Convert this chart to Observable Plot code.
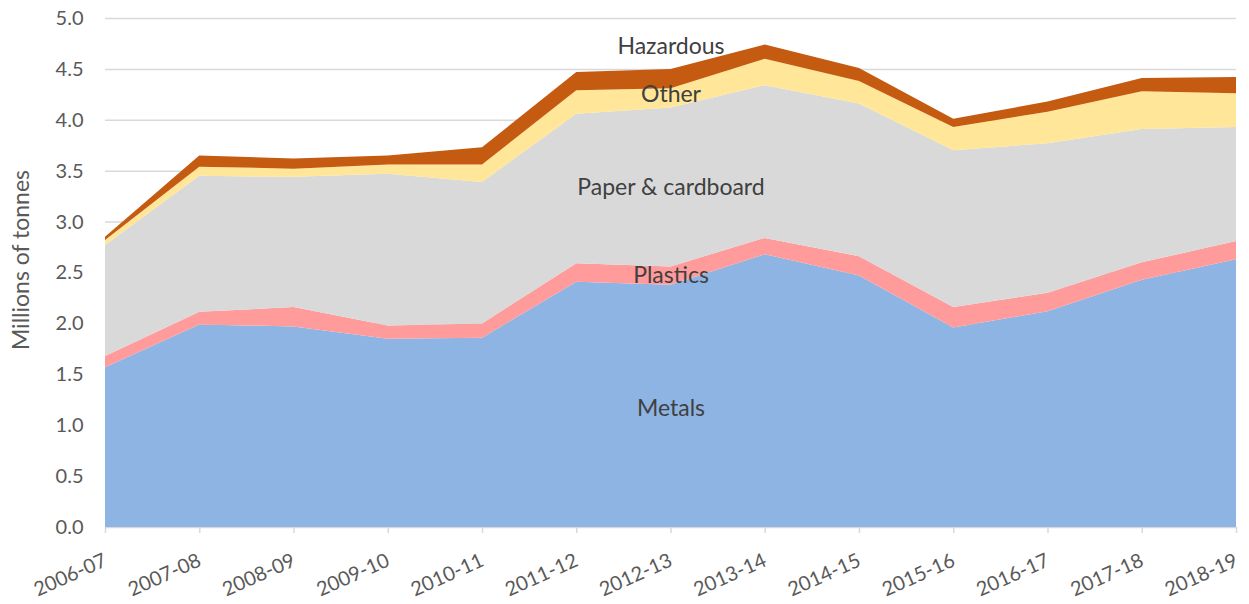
<!DOCTYPE html>
<html>
<head>
<meta charset="utf-8">
<script src="https://cdn.jsdelivr.net/npm/d3@7"></script>
<script src="https://cdn.jsdelivr.net/npm/@observablehq/plot@0.6"></script>
<style>
  html, body { margin: 0; padding: 0; background: #fff; }
  #chart { width: 1249px; height: 604px; }
</style>
</head>
<body>
<div id="chart"></div>
<script>
const years = ["2006-07","2007-08","2008-09","2009-10","2010-11","2011-12","2012-13","2013-14","2014-15","2015-16","2016-17","2017-18","2018-19"];
const categories = ["Metals","Plastics","Paper & cardboard","Other","Hazardous"];
const colors = ["#8EB4E3","#FF9B9B","#D9D9D9","#FFE699","#C55A11"];
const metals    = [1.57, 1.99, 1.97, 1.85, 1.86, 2.41, 2.38, 2.68, 2.47, 1.96, 2.12, 2.43, 2.63];
const plastics  = [0.11, 0.125, 0.19, 0.13, 0.14, 0.18, 0.18, 0.16, 0.19, 0.20, 0.18, 0.17, 0.18];
const paper     = [1.09, 1.335, 1.28, 1.49, 1.39, 1.47, 1.56, 1.50, 1.50, 1.54, 1.47, 1.31, 1.12];
const other     = [0.05, 0.09, 0.08, 0.09, 0.17, 0.23, 0.19, 0.26, 0.22, 0.23, 0.31, 0.37, 0.33];
const hazardous = [0.03, 0.11, 0.10, 0.09, 0.17, 0.18, 0.19, 0.14, 0.13, 0.08, 0.10, 0.13, 0.16];
const yTicks = [0, 0.5, 1, 1.5, 2, 2.5, 3, 3.5, 4, 4.5, 5];
// label anchors (year index, value in millions of tonnes)
const labelX = [6, 6, 6, 6, 6];
const labelY = [1.17, 2.47, 3.34, 4.25, 4.72];

const series = [metals, plastics, paper, other, hazardous];
const data = [];
years.forEach((y, i) => {
  categories.forEach((c, k) => data.push({i, year: y, category: c, value: series[k][i]}));
});
const labels = categories.map((c, k) => ({text: c, x: labelX[k], y: labelY[k]}));

const font = "Lato, 'Open Sans', sans-serif";
const chart = Plot.plot({
  width: 1249,
  height: 604,
  marginLeft: 105,
  marginRight: 13,
  marginTop: 18,
  marginBottom: 77,
  style: {fontFamily: font, fontSize: "20px", color: "#595959", background: "#fff"},
  x: {domain: [0, years.length - 1]},
  y: {domain: [0, 5]},
  color: {domain: categories, range: colors},
  marks: [
    Plot.gridY(yTicks, {stroke: "#d9d9d9", strokeOpacity: 1, strokeWidth: 1.5}),
    Plot.areaY(data, {x: "i", y: "value", z: "category", fill: "category", order: categories, curve: "linear"}),
    Plot.axisY(yTicks, {tickSize: 0, tickPadding: 22, tickFormat: d => d.toFixed(1), fill: "#595959", fontSize: 20, label: null}),
    Plot.axisX(d3.range(years.length), {tickSize: 6, stroke: "#d9d9d9", strokeWidth: 1.5, tickPadding: 26, tickRotate: -24, tickFormat: i => years[i], fill: "#595959", fontSize: 20, label: null}),
    Plot.text(labels, {x: "x", y: "y", text: "text", fill: "#404040", fontSize: 23, fontFamily: font})
  ]
});
const svg = chart;
// y-axis title
const ns = "http://www.w3.org/2000/svg";
const t = document.createElementNS(ns, "text");
t.setAttribute("transform", "translate(23,260) rotate(-90)");
t.setAttribute("text-anchor", "middle");
t.setAttribute("dominant-baseline", "middle");
t.setAttribute("fill", "#595959");
t.setAttribute("font-size", "23");
t.setAttribute("font-family", font);
t.textContent = "Millions of tonnes";
svg.appendChild(t);
document.getElementById("chart").appendChild(svg);
</script>
</body>
</html>
